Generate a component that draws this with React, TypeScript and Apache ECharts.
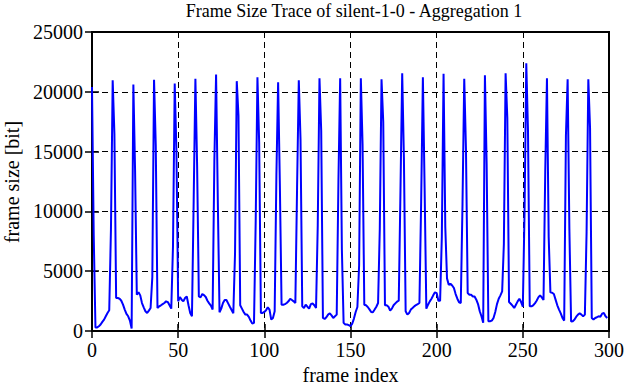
import React, { useEffect, useRef } from "react";
import * as echarts from "echarts";

const chartTitle = "Frame Size Trace of silent-1-0 - Aggregation 1";
const xAxisName = "frame index";
const yAxisName = "frame size [bit]";

const frames000 = [
  20400, 8000, 300, 300, 400, 540, 760, 950, 1230, 1510,
  1730, 8500, 20970, 16500, 2755, 2755, 2700, 2530, 2200, 1790,
  1430, 1230, 870, 200, 20600, 13400, 3030, 3250, 2980, 2340,
  1980, 1650, 1510, 1700, 1920, 4500, 21000, 15500, 1920, 2060,
  2150, 2250, 2340, 2480, 2420, 2150, 1870, 7100, 20700, 15000,
];
const frames050 = [
  2480, 2840, 2620, 2480, 2755, 2890, 2150, 1510, 1230, 10900,
  21080, 13800, 2890, 2810, 3090, 3000, 2840, 2530, 2310, 2120,
  1790, 14200, 21450, 10900, 1560, 1870, 2340, 2590, 2590, 2310,
  2030, 1760, 1480, 6500, 20890, 18000, 2150, 1870, 1590, 1370,
  1370, 1180, 870, 620, 680, 9260, 21220, 15760, 1510, 1510,
];
const frames100 = [
  1590, 1730, 1980, 1790, 955, 1090, 1650, 13000, 20800, 12300,
  2200, 2200, 2250, 2340, 2480, 2700, 2590, 2480, 2340, 12000,
  20970, 16000, 2060, 1920, 2200, 2030, 1870, 2250, 2310, 2150,
  1920, 8850, 21140, 16740, 1090, 1010, 1150, 1370, 1480, 1310,
  1090, 1230, 1370, 12580, 21140, 6800, 680, 540, 540, 490,
];
const frames150 = [
  400, 620, 1040, 1590, 2010, 5500, 21140, 15600, 2200, 2150,
  2010, 1810, 1590, 1560, 1790, 2030, 2340, 8570, 21050, 17500,
  2150, 2150, 2030, 1700, 1870, 2150, 2310, 2450, 2530, 11750,
  21550, 14380, 1650, 1370, 1510, 1790, 1920, 2060, 2170, 2250,
  2340, 10800, 21220, 12000, 1870, 2200, 2480, 2700, 2980, 3230,
];
const frames200 = [
  3170, 2530, 2530, 7900, 21500, 8700, 4400, 3860, 3950, 3810,
  3590, 3090, 2700, 2400, 2340, 10650, 21080, 15220, 3170, 3030,
  3030, 2890, 2890, 2620, 2250, 1650, 1230, 700, 21390, 13970,
  820, 820, 870, 1090, 1590, 2250, 2700, 2980, 3310, 7300,
  21550, 17800, 2420, 2280, 2120, 1920, 2200, 2480, 2700, 2420,
];
const frames250 = [
  2030, 9970, 22380, 16700, 2060, 2060, 2150, 2310, 2530, 2810,
  2980, 2810, 2590, 13290, 21140, 7870, 3230, 3200, 3090, 2620,
  2150, 1790, 1480, 1090, 870, 16300, 21050, 8570, 790, 820,
  955, 1200, 1370, 1480, 1370, 1230, 1370, 8300, 21050, 17000,
  1090, 955, 1090, 1150, 1230, 1200, 1450, 1510, 1230, 1090,
];

const xMin = 0;
const xMax = 300;
const xStep = 50;
const yMin = 0;
const yMax = 25000;
const yStep = 5000;

const FONT = "Liberation Serif, serif";

export default function App() {
  const ref = useRef<HTMLDivElement>(null);

  useEffect(() => {
    if (!ref.current) return;
    const chart = echarts.init(ref.current, undefined, { renderer: "svg" });
    const frameSizes = [
      ...frames000,
      ...frames050,
      ...frames100,
      ...frames150,
      ...frames200,
      ...frames250,
    ];
    const data = frameSizes.map((v, i) => [i, v]);

    const dashed = { color: "#000", width: 1, type: [6, 4] as any };
    const tick = { show: true, inside: true, length: 7, lineStyle: { color: "#000", width: 1.5 } };
    const tickLabel = { fontFamily: FONT, fontSize: 20, color: "#000" };

    chart.setOption({
      animation: false,
      backgroundColor: "#fff",
      grid: {
        left: 92,
        right: 17,
        top: 32,
        bottom: 51,
        outerBoundsMode: "none",
        containLabel: false,
        show: true,
        borderColor: "#000",
        borderWidth: 2,
        backgroundColor: "transparent",
      },
      graphic: [
        {
          type: "text",
          x: 354,
          y: 2,
          style: {
            text: chartTitle,
            font: "18px Liberation Serif",
            fill: "#000",
            align: "center",
            verticalAlign: "top",
          },
        },
        {
          type: "text",
          x: 12,
          y: 182,
          rotation: Math.PI / 2,
          style: {
            text: yAxisName,
            font: "20px Liberation Serif",
            fill: "#000",
            align: "center",
            verticalAlign: "middle",
          },
        },
      ],
      xAxis: [
        {
          type: "value",
          min: xMin,
          max: xMax,
          interval: xStep,
          position: "bottom",
          name: xAxisName,
          nameLocation: "middle",
          nameGap: 31,
          nameTextStyle: { fontFamily: FONT, fontSize: 20, color: "#000" },
          axisLine: { show: false },
          axisTick: tick,
          axisLabel: { ...tickLabel, margin: 9 },
          splitLine: { show: true, lineStyle: dashed },
        },
        {
          type: "value",
          min: xMin,
          max: xMax,
          interval: xStep,
          position: "top",
          axisLine: { show: false },
          axisTick: tick,
          axisLabel: { show: false },
          splitLine: { show: false },
        },
      ],
      yAxis: [
        {
          type: "value",
          min: yMin,
          max: yMax,
          interval: yStep,
          position: "left",
          axisLine: { show: false },
          axisTick: tick,
          axisLabel: {
            ...tickLabel,
            margin: 9,
            formatter: (v: number) => String(v),
          },
          splitLine: { show: true, lineStyle: dashed },
        },
        {
          type: "value",
          min: yMin,
          max: yMax,
          interval: yStep,
          position: "right",
          axisLine: { show: false },
          axisTick: tick,
          axisLabel: { show: false },
          splitLine: { show: false },
        },
      ],
      series: [
        {
          type: "line",
          data,
          xAxisIndex: 0,
          yAxisIndex: 0,
          showSymbol: false,
          symbol: "none",
          lineStyle: { color: "#0000ff", width: 2 },
          itemStyle: { color: "#0000ff" },
          z: 3,
        },
      ],
    });

    return () => chart.dispose();
  }, []);

  return (
    <div
      ref={ref}
      style={{ position: "fixed", left: 0, top: 0, width: 626, height: 382 }}
    />
  );
}
